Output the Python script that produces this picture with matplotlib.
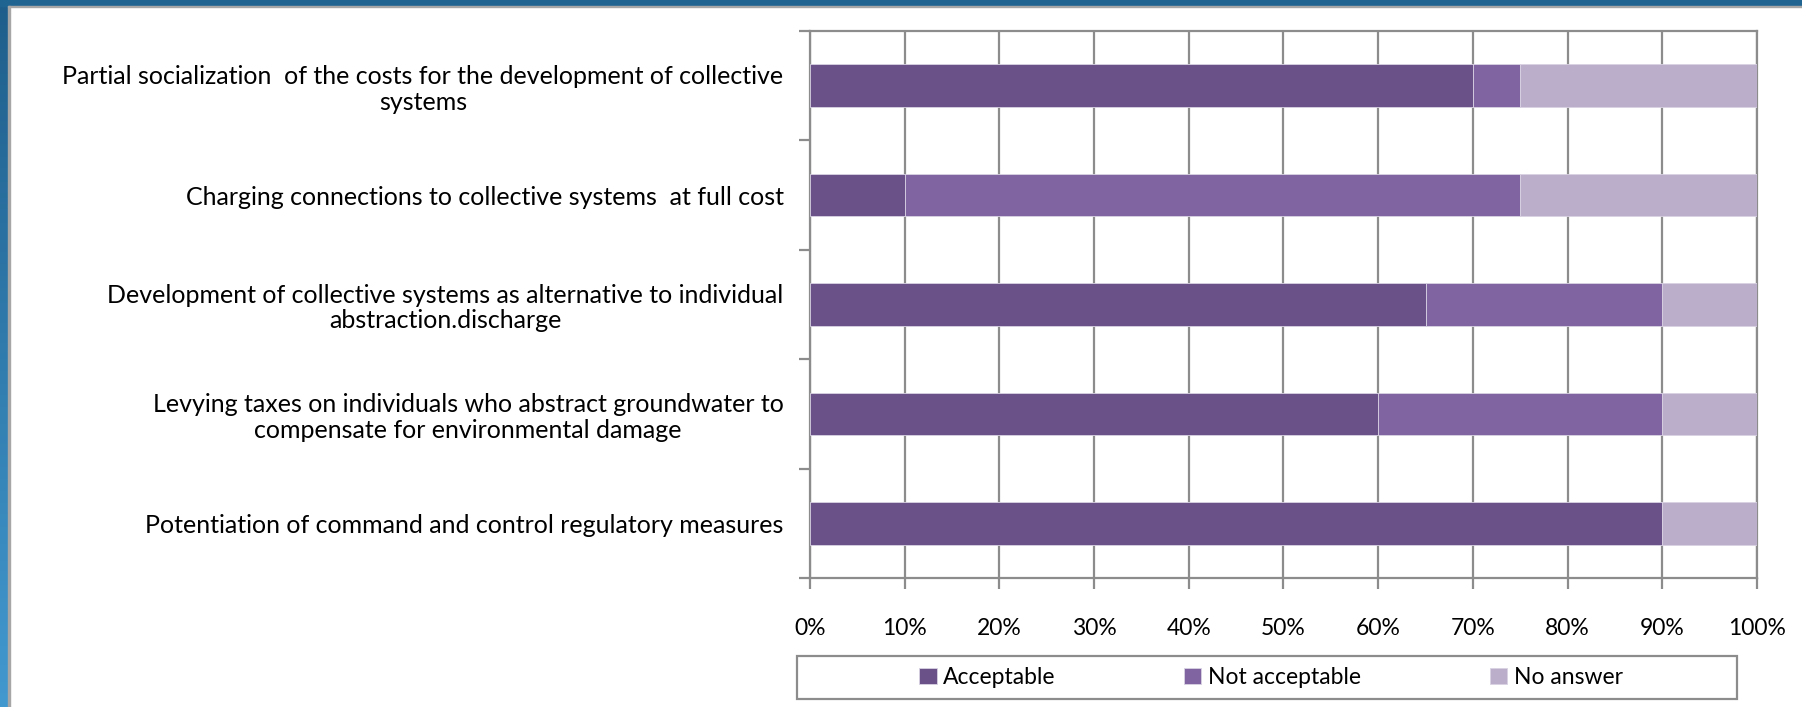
import numpy as np
import matplotlib
matplotlib.use("Agg")
import matplotlib.pyplot as plt
from matplotlib.patches import Rectangle
from matplotlib.colors import LinearSegmentedColormap

categories = [
    "Partial socialization  of the costs for the development of collective\nsystems",
    "Charging connections to collective systems  at full cost",
    "Development of collective systems as alternative to individual\nabstraction.discharge",
    "Levying taxes on individuals who abstract groundwater to\ncompensate for environmental damage",
    "Potentiation of command and control regulatory measures",
]
acceptable = [70, 10, 65, 60, 90]
not_acceptable = [5, 65, 25, 30, 0]
no_answer = [25, 25, 10, 10, 10]

series = ["Acceptable", "Not acceptable", "No answer"]
colors = ["#6a5187", "#8064a2", "#baaecb"]

W, H = 1802, 707
plt.rcParams["font.family"] = ["Lato", "DejaVu Sans"]
fig = plt.figure(figsize=(W / 100, H / 100), dpi=100)
fig.patch.set_facecolor("white")

# slide frame: blue band on top and a gradient band on the left
band = fig.add_axes([0, 0, 8 / W, 1])
grad = LinearSegmentedColormap.from_list("band", ["#1f5e8b", "#4299cf"])
band.imshow(np.linspace(0, 1, 256).reshape(-1, 1), aspect="auto", cmap=grad)
band.axis("off")
fig.patches.append(Rectangle((0, 1 - 6 / H), 1, 6 / H, transform=fig.transFigure,
                             color="#206592", zorder=5))
fig.patches.append(Rectangle((8 / W, 0), 2 / W, 1 - 6 / H, transform=fig.transFigure,
                             color="#a6a6a6", zorder=5))
fig.patches.append(Rectangle((8 / W, 1 - 7 / H), 1, 1 / H, transform=fig.transFigure,
                             color="#a6a6a6", zorder=5))

ax = fig.add_axes([810 / W, 1 - 578 / H, (1757 - 810) / W, (578 - 31) / H])
y = np.arange(len(categories))
left = np.zeros(len(categories))
for name, vals, c in zip(series, [acceptable, not_acceptable, no_answer], colors):
    ax.barh(y, vals, left=left, height=0.39, color=c, edgecolor="#d9d2e3",
            linewidth=0.6, label=name, zorder=3)
    left += np.array(vals)

ax.set_xlim(0, 100)
ax.set_ylim(len(categories) - 0.5, -0.5)

grid_c = "#8c8c8c"
ax.set_xticks(np.arange(0, 101, 10))
ax.set_xticklabels([f"{v}%" for v in range(0, 101, 10)])
ax.xaxis.grid(True, color=grid_c, linewidth=1.6, zorder=0)
ax.tick_params(axis="x", direction="out", length=8, width=1.6, color=grid_c,
               labelsize=16.5, pad=21)

ax.set_yticks(np.arange(-0.5, len(categories), 1))
ax.set_yticklabels([])
ax.tick_params(axis="y", which="major", direction="out", length=8, width=1.6, color=grid_c)
ax.set_yticks(y, categories, minor=True)
ax.tick_params(axis="y", which="minor", length=0, labelsize=18, pad=19)
for lab in ax.get_yticklabels(minor=True):
    lab.set_multialignment("center")
    lab.set_linespacing(1.15)

for s in ax.spines.values():
    s.set_color(grid_c)
    s.set_linewidth(1.6)

# legend box below the axis
fig.patches.append(Rectangle((797 / W, 1 - 699 / H), (1737 - 797) / W, 43 / H,
                             transform=fig.transFigure, facecolor="white",
                             edgecolor="#8c8c8c", linewidth=1.6))
handles, labels = ax.get_legend_handles_labels()
fig.legend(handles, labels, loc="center", bbox_to_anchor=(1271 / W, 1 - 677.5 / H),
           ncol=3, frameon=False, fontsize=16.5, handlelength=0.75, handleheight=0.75,
           handletextpad=0.3, columnspacing=5.6)

fig.savefig("out.png", dpi=100)
